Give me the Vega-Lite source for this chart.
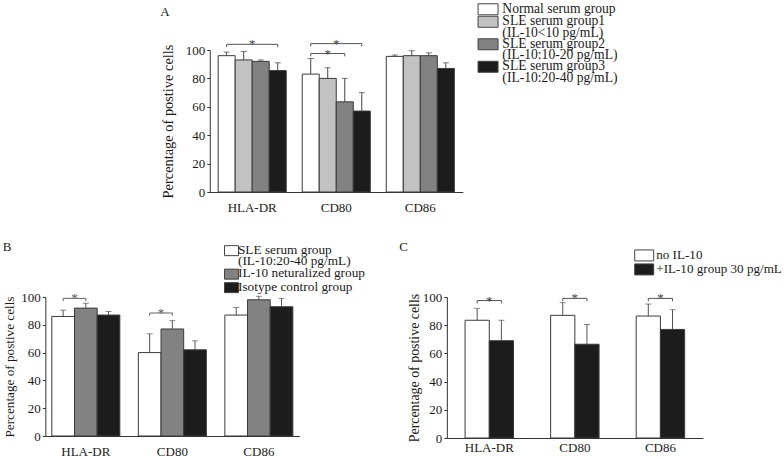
{
  "$schema": "https://vega.github.io/schema/vega-lite/v6.json",
  "background": "white",
  "padding": {"left": 2, "top": 5, "right": 0, "bottom": 0},
  "config": {
    "font": "Liberation Serif",
    "view": {"stroke": null},
    "axis": {"labelFont": "Liberation Serif", "labelFontSize": 13, "labelColor": "#1a1a1a", "titleFont": "Liberation Serif", "titleFontSize": 13, "titleFontWeight": "normal", "titleColor": "#1a1a1a", "domainColor": "#333333", "tickColor": "#333333", "grid": false, "labelOverlap": false},
    "axisX": {"ticks": false, "labelAngle": 0, "labelPadding": 9, "title": null},
    "axisY": {"tickSize": 3, "labelPadding": 2, "titlePadding": 4, "tickCount": 6},
    "legend": {"labelFont": "Liberation Serif", "labelFontSize": 13, "labelColor": "#1a1a1a", "title": null, "padding": 0, "symbolStrokeColor": "#444444", "symbolStrokeWidth": 1, "symbolOpacity": 1, "labelBaseline": "alphabetic"},
    "title": {"font": "Liberation Serif", "fontSize": 13, "fontWeight": "normal", "anchor": "start", "frame": "bounds", "color": "#1a1a1a"},
    "style": {"guide-label": {"lineHeight": 11.5}}
  },
  "datasets": {
    "barsA": [
      {"cat": "HLA-DR", "series": "Normal serum group", "value": 96, "upper": 98.5},
      {"cat": "HLA-DR", "series": "SLE serum group1 (IL-10<10 pg/mL)", "value": 93, "upper": 99},
      {"cat": "HLA-DR", "series": "SLE serum group2 (IL-10:10-20 pg/mL)", "value": 92, "upper": 93},
      {"cat": "HLA-DR", "series": "SLE serum group3 (IL-10:20-40 pg/mL)", "value": 85.5, "upper": 91},
      {"cat": "CD80", "series": "Normal serum group", "value": 83, "upper": 94},
      {"cat": "CD80", "series": "SLE serum group1 (IL-10<10 pg/mL)", "value": 80, "upper": 87.5},
      {"cat": "CD80", "series": "SLE serum group2 (IL-10:10-20 pg/mL)", "value": 63.5, "upper": 80},
      {"cat": "CD80", "series": "SLE serum group3 (IL-10:20-40 pg/mL)", "value": 57, "upper": 70},
      {"cat": "CD86", "series": "Normal serum group", "value": 95.5, "upper": 96.5},
      {"cat": "CD86", "series": "SLE serum group1 (IL-10<10 pg/mL)", "value": 96, "upper": 99.5},
      {"cat": "CD86", "series": "SLE serum group2 (IL-10:10-20 pg/mL)", "value": 96, "upper": 98},
      {"cat": "CD86", "series": "SLE serum group3 (IL-10:20-40 pg/mL)", "value": 87, "upper": 91}
    ],
    "brA": [
      {"id": "a1", "cat": "HLA-DR", "series": "Normal serum group", "y": 102, "ord": 1},
      {"id": "a1", "cat": "HLA-DR", "series": "Normal serum group", "y": 104, "ord": 2},
      {"id": "a1", "cat": "HLA-DR", "series": "SLE serum group3 (IL-10:20-40 pg/mL)", "y": 104, "ord": 3},
      {"id": "a1", "cat": "HLA-DR", "series": "SLE serum group3 (IL-10:20-40 pg/mL)", "y": 102, "ord": 4},
      {"id": "a2", "cat": "CD80", "series": "Normal serum group", "y": 102.5, "ord": 1},
      {"id": "a2", "cat": "CD80", "series": "Normal serum group", "y": 104.5, "ord": 2},
      {"id": "a2", "cat": "CD80", "series": "SLE serum group3 (IL-10:20-40 pg/mL)", "y": 104.5, "ord": 3},
      {"id": "a2", "cat": "CD80", "series": "SLE serum group3 (IL-10:20-40 pg/mL)", "y": 102.5, "ord": 4},
      {"id": "a3", "cat": "CD80", "series": "Normal serum group", "y": 95.5, "ord": 1},
      {"id": "a3", "cat": "CD80", "series": "Normal serum group", "y": 97.5, "ord": 2},
      {"id": "a3", "cat": "CD80", "series": "SLE serum group2 (IL-10:10-20 pg/mL)", "y": 97.5, "ord": 3},
      {"id": "a3", "cat": "CD80", "series": "SLE serum group2 (IL-10:10-20 pg/mL)", "y": 95.5, "ord": 4}
    ],
    "starA1": [
      {"cat": "HLA-DR", "y": 104},
      {"cat": "CD80", "y": 104.5}
    ],
    "starA2": [
      {"cat": "CD80", "series": "SLE serum group1 (IL-10<10 pg/mL)", "y": 97.5}
    ],
    "barsB": [
      {"cat": "HLA-DR", "series": "SLE serum group (IL-10:20-40 pg/mL)", "value": 86, "upper": 90.5},
      {"cat": "HLA-DR", "series": "IL-10 neturalized group", "value": 92, "upper": 95.5},
      {"cat": "HLA-DR", "series": "Isotype control group", "value": 87, "upper": 89.5},
      {"cat": "CD80", "series": "SLE serum group (IL-10:20-40 pg/mL)", "value": 60, "upper": 73.5},
      {"cat": "CD80", "series": "IL-10 neturalized group", "value": 77, "upper": 83},
      {"cat": "CD80", "series": "Isotype control group", "value": 62, "upper": 68.5},
      {"cat": "CD86", "series": "SLE serum group (IL-10:20-40 pg/mL)", "value": 87, "upper": 92.5},
      {"cat": "CD86", "series": "IL-10 neturalized group", "value": 98, "upper": 100.5},
      {"cat": "CD86", "series": "Isotype control group", "value": 93, "upper": 99}
    ],
    "brB": [
      {"id": "b1", "cat": "HLA-DR", "series": "SLE serum group (IL-10:20-40 pg/mL)", "y": 97, "ord": 1},
      {"id": "b1", "cat": "HLA-DR", "series": "SLE serum group (IL-10:20-40 pg/mL)", "y": 99, "ord": 2},
      {"id": "b1", "cat": "HLA-DR", "series": "IL-10 neturalized group", "y": 99, "ord": 3},
      {"id": "b1", "cat": "HLA-DR", "series": "IL-10 neturalized group", "y": 97, "ord": 4},
      {"id": "b2", "cat": "CD80", "series": "SLE serum group (IL-10:20-40 pg/mL)", "y": 86.5, "ord": 1},
      {"id": "b2", "cat": "CD80", "series": "SLE serum group (IL-10:20-40 pg/mL)", "y": 88.5, "ord": 2},
      {"id": "b2", "cat": "CD80", "series": "IL-10 neturalized group", "y": 88.5, "ord": 3},
      {"id": "b2", "cat": "CD80", "series": "IL-10 neturalized group", "y": 86.5, "ord": 4}
    ],
    "starB": [
      {"cat": "HLA-DR", "y": 99},
      {"cat": "CD80", "y": 88.5}
    ],
    "barsC": [
      {"cat": "HLA-DR", "series": "no IL-10", "value": 83.5, "upper": 92},
      {"cat": "HLA-DR", "series": "+IL-10 group 30 pg/mL", "value": 69, "upper": 83.5},
      {"cat": "CD80", "series": "no IL-10", "value": 87, "upper": 96},
      {"cat": "CD80", "series": "+IL-10 group 30 pg/mL", "value": 66.5, "upper": 80.5},
      {"cat": "CD86", "series": "no IL-10", "value": 86.5, "upper": 95},
      {"cat": "CD86", "series": "+IL-10 group 30 pg/mL", "value": 77, "upper": 91}
    ],
    "brC": [
      {"id": "c1", "cat": "HLA-DR", "series": "no IL-10", "y": 95.5, "ord": 1},
      {"id": "c1", "cat": "HLA-DR", "series": "no IL-10", "y": 97.5, "ord": 2},
      {"id": "c1", "cat": "HLA-DR", "series": "+IL-10 group 30 pg/mL", "y": 97.5, "ord": 3},
      {"id": "c1", "cat": "HLA-DR", "series": "+IL-10 group 30 pg/mL", "y": 95.5, "ord": 4},
      {"id": "c2", "cat": "CD80", "series": "no IL-10", "y": 97, "ord": 1},
      {"id": "c2", "cat": "CD80", "series": "no IL-10", "y": 99, "ord": 2},
      {"id": "c2", "cat": "CD80", "series": "+IL-10 group 30 pg/mL", "y": 99, "ord": 3},
      {"id": "c2", "cat": "CD80", "series": "+IL-10 group 30 pg/mL", "y": 97, "ord": 4},
      {"id": "c3", "cat": "CD86", "series": "no IL-10", "y": 97, "ord": 1},
      {"id": "c3", "cat": "CD86", "series": "no IL-10", "y": 99, "ord": 2},
      {"id": "c3", "cat": "CD86", "series": "+IL-10 group 30 pg/mL", "y": 99, "ord": 3},
      {"id": "c3", "cat": "CD86", "series": "+IL-10 group 30 pg/mL", "y": 97, "ord": 4}
    ],
    "starC": [
      {"cat": "HLA-DR", "y": 97.5},
      {"cat": "CD80", "y": 99},
      {"cat": "CD86", "y": 99}
    ]
  },
  "resolve": {"scale": {"x": "independent", "y": "independent", "xOffset": "independent", "fill": "independent"}, "legend": {"fill": "independent"}},
  "center": true,
  "spacing": 26,
  "vconcat": [
    {
      "width": 253,
      "height": 142,
      "title": {"text": "A", "offset": -12.7},
      "layer": [
        {
          "data": {"name": "barsA"},
          "mark": {"type": "bar", "stroke": "#3a3a3a", "strokeWidth": 1},
          "encoding": {
            "x": {"field": "cat", "type": "nominal", "sort": ["HLA-DR", "CD80", "CD86"], "scale": {"paddingInner": 0.19, "paddingOuter": 0.1}, "axis": {"title": null}},
            "xOffset": {"field": "series", "type": "nominal", "scale": {"domain": ["Normal serum group", "SLE serum group1 (IL-10<10 pg/mL)", "SLE serum group2 (IL-10:10-20 pg/mL)", "SLE serum group3 (IL-10:20-40 pg/mL)"], "paddingInner": 0, "paddingOuter": 0}},
            "y": {"field": "value", "type": "quantitative", "scale": {"domain": [0, 100], "nice": false}, "axis": {"title": "Percentage of postive cells", "values": [0, 20, 40, 60, 80, 100], "tickCount": 6, "labelOverlap": false, "titlePadding": 10, "titleFontSize": 14.4}},
            "fill": {"field": "series", "type": "nominal", "scale": {"domain": ["Normal serum group", "SLE serum group1 (IL-10<10 pg/mL)", "SLE serum group2 (IL-10:10-20 pg/mL)", "SLE serum group3 (IL-10:20-40 pg/mL)"], "range": ["#ffffff", "#c2c2c2", "#828282", "#1c1c1c"]},
              "legend": {"orient": "none", "legendX": 271.5, "legendY": -44, "symbolType": "M-1.82,-1.64H1.82V0.36H-1.82Z", "symbolSize": 121, "labelOffset": 7.5, "rowPadding": -3.5, "labelFontSize": 13.6, "labelExpr": "split(replace(replace(datum.label, ' (', '|('), ')', ')\u00a0\u00a0\u00a0\u00a0\u00a0\u00a0\u00a0\u00a0\u00a0\u00a0'), '|')"}}
          }
        },
        {
          "data": {"name": "barsA"},
          "mark": {"type": "rule", "color": "#444444", "strokeWidth": 1},
          "encoding": {
            "x": {"field": "cat", "type": "nominal", "sort": ["HLA-DR", "CD80", "CD86"]},
            "xOffset": {"field": "series", "type": "nominal"},
            "y": {"field": "value", "type": "quantitative"},
            "y2": {"field": "upper"}
          }
        },
        {
          "data": {"name": "barsA"},
          "mark": {"type": "tick", "orient": "horizontal", "size": 6, "thickness": 1, "color": "#444444"},
          "encoding": {
            "x": {"field": "cat", "type": "nominal", "sort": ["HLA-DR", "CD80", "CD86"]},
            "xOffset": {"field": "series", "type": "nominal"},
            "y": {"field": "upper", "type": "quantitative"}
          }
        },
        {
          "data": {"name": "brA"},
          "mark": {"type": "line", "color": "#555555", "strokeWidth": 1},
          "encoding": {
            "x": {"field": "cat", "type": "nominal", "sort": ["HLA-DR", "CD80", "CD86"]},
            "xOffset": {"field": "series", "type": "nominal"},
            "y": {"field": "y", "type": "quantitative"},
            "detail": {"field": "id"},
            "order": {"field": "ord", "type": "quantitative"}
          }
        },
        {
          "data": {"name": "starA1"},
          "mark": {"type": "text", "text": "*", "fontSize": 13, "fill": "#444444", "baseline": "middle"},
          "encoding": {
            "x": {"field": "cat", "type": "nominal", "sort": ["HLA-DR", "CD80", "CD86"]},
            "y": {"field": "y", "type": "quantitative"}
          }
        },
        {
          "data": {"name": "starA2"},
          "mark": {"type": "text", "text": "*", "fontSize": 13, "fill": "#444444", "baseline": "middle"},
          "encoding": {
            "x": {"field": "cat", "type": "nominal", "sort": ["HLA-DR", "CD80", "CD86"]},
            "xOffset": {"field": "series", "type": "nominal"},
            "y": {"field": "y", "type": "quantitative"}
          }
        }
      ]
    },
    {
      "resolve": {"scale": {"x": "independent", "y": "independent", "xOffset": "independent", "fill": "independent"}, "legend": {"fill": "independent"}},
      "spacing": 32.5,
      "hconcat": [
        {
          "width": 254,
          "height": 139,
          "title": {"text": "B", "offset": -6.3},
          "layer": [
            {
              "data": {"name": "barsB"},
              "mark": {"type": "bar", "stroke": "#3a3a3a", "strokeWidth": 1},
              "encoding": {
                "x": {"field": "cat", "type": "nominal", "sort": ["HLA-DR", "CD80", "CD86"], "scale": {"paddingInner": 0.214, "paddingOuter": 0.075}, "axis": {"title": null}},
                "xOffset": {"field": "series", "type": "nominal", "scale": {"domain": ["SLE serum group (IL-10:20-40 pg/mL)", "IL-10 neturalized group", "Isotype control group"], "paddingInner": 0, "paddingOuter": 0}},
                "y": {"field": "value", "type": "quantitative", "scale": {"domain": [0, 100], "nice": false}, "axis": {"title": "Percentage of postive cells", "values": [0, 20, 40, 60, 80, 100], "tickCount": 6, "labelOverlap": false, "titleFontSize": 13.2}},
                "fill": {"field": "series", "type": "nominal", "scale": {"domain": ["SLE serum group (IL-10:20-40 pg/mL)", "IL-10 neturalized group", "Isotype control group"], "range": ["#ffffff", "#828282", "#1c1c1c"]},
                  "legend": {"orient": "none", "legendX": 179.5, "legendY": -49.8, "symbolType": "M-1.4,-1.64H1.4V0.36H-1.4Z", "symbolSize": 100, "labelOffset": -0.2, "rowPadding": -2.5, "labelFontSize": 13.3, "labelExpr": "split(replace(datum.label, ' (', '|('), '|')"}}
              }
            },
            {
              "data": {"name": "barsB"},
              "mark": {"type": "rule", "color": "#555555", "strokeWidth": 1},
              "encoding": {
                "x": {"field": "cat", "type": "nominal", "sort": ["HLA-DR", "CD80", "CD86"]},
                "xOffset": {"field": "series", "type": "nominal"},
                "y": {"field": "value", "type": "quantitative"},
                "y2": {"field": "upper"}
              }
            },
            {
              "data": {"name": "barsB"},
              "mark": {"type": "tick", "orient": "horizontal", "size": 6, "thickness": 1, "color": "#555555"},
              "encoding": {
                "x": {"field": "cat", "type": "nominal", "sort": ["HLA-DR", "CD80", "CD86"]},
                "xOffset": {"field": "series", "type": "nominal"},
                "y": {"field": "upper", "type": "quantitative"}
              }
            },
            {
              "data": {"name": "brB"},
              "mark": {"type": "line", "color": "#666666", "strokeWidth": 1},
              "encoding": {
                "x": {"field": "cat", "type": "nominal", "sort": ["HLA-DR", "CD80", "CD86"]},
                "xOffset": {"field": "series", "type": "nominal"},
                "y": {"field": "y", "type": "quantitative"},
                "detail": {"field": "id"},
                "order": {"field": "ord", "type": "quantitative"}
              }
            },
            {
              "data": {"name": "starB"},
              "mark": {"type": "text", "text": "*", "fontSize": 13, "fill": "#555555", "baseline": "middle", "dx": -11.3},
              "encoding": {
                "x": {"field": "cat", "type": "nominal", "sort": ["HLA-DR", "CD80", "CD86"]},
                "y": {"field": "y", "type": "quantitative"}
              }
            }
          ]
        },
        {
          "width": 256,
          "height": 141,
          "title": {"text": "C", "offset": -1.3, "dx": -8},
          "layer": [
            {
              "data": {"name": "barsC"},
              "mark": {"type": "bar", "stroke": "#3a3a3a", "strokeWidth": 1},
              "encoding": {
                "x": {"field": "cat", "type": "nominal", "sort": ["HLA-DR", "CD80", "CD86"], "scale": {"paddingInner": 0.434, "paddingOuter": 0.213}, "axis": {"title": null, "labelPadding": 3}},
                "xOffset": {"field": "series", "type": "nominal", "scale": {"domain": ["no IL-10", "+IL-10 group 30 pg/mL"], "paddingInner": 0, "paddingOuter": 0}},
                "y": {"field": "value", "type": "quantitative", "scale": {"domain": [0, 100], "nice": false}, "axis": {"title": "Percentage of postive cells", "values": [0, 20, 40, 60, 80, 100], "tickCount": 6, "labelOverlap": false, "titleFontSize": 13.9, "titlePadding": 1}},
                "fill": {"field": "series", "type": "nominal", "scale": {"domain": ["no IL-10", "+IL-10 group 30 pg/mL"], "range": ["#ffffff", "#1c1c1c"]},
                  "legend": {"orient": "none", "legendX": 190.8, "legendY": -44.6, "symbolType": "M-1.727,-1.64H1.727V0.36H-1.727Z", "symbolSize": 121, "labelOffset": 5.5, "rowPadding": -2, "labelFontSize": 13.1}}
              }
            },
            {
              "data": {"name": "barsC"},
              "mark": {"type": "rule", "color": "#555555", "strokeWidth": 1},
              "encoding": {
                "x": {"field": "cat", "type": "nominal", "sort": ["HLA-DR", "CD80", "CD86"]},
                "xOffset": {"field": "series", "type": "nominal"},
                "y": {"field": "value", "type": "quantitative"},
                "y2": {"field": "upper"}
              }
            },
            {
              "data": {"name": "barsC"},
              "mark": {"type": "tick", "orient": "horizontal", "size": 6, "thickness": 1, "color": "#555555"},
              "encoding": {
                "x": {"field": "cat", "type": "nominal", "sort": ["HLA-DR", "CD80", "CD86"]},
                "xOffset": {"field": "series", "type": "nominal"},
                "y": {"field": "upper", "type": "quantitative"}
              }
            },
            {
              "data": {"name": "brC"},
              "mark": {"type": "line", "color": "#555555", "strokeWidth": 1},
              "encoding": {
                "x": {"field": "cat", "type": "nominal", "sort": ["HLA-DR", "CD80", "CD86"]},
                "xOffset": {"field": "series", "type": "nominal"},
                "y": {"field": "y", "type": "quantitative"},
                "detail": {"field": "id"},
                "order": {"field": "ord", "type": "quantitative"}
              }
            },
            {
              "data": {"name": "starC"},
              "mark": {"type": "text", "text": "*", "fontSize": 13, "fill": "#444444", "baseline": "middle"},
              "encoding": {
                "x": {"field": "cat", "type": "nominal", "sort": ["HLA-DR", "CD80", "CD86"]},
                "y": {"field": "y", "type": "quantitative"}
              }
            }
          ]
        }
      ]
    }
  ]
}
